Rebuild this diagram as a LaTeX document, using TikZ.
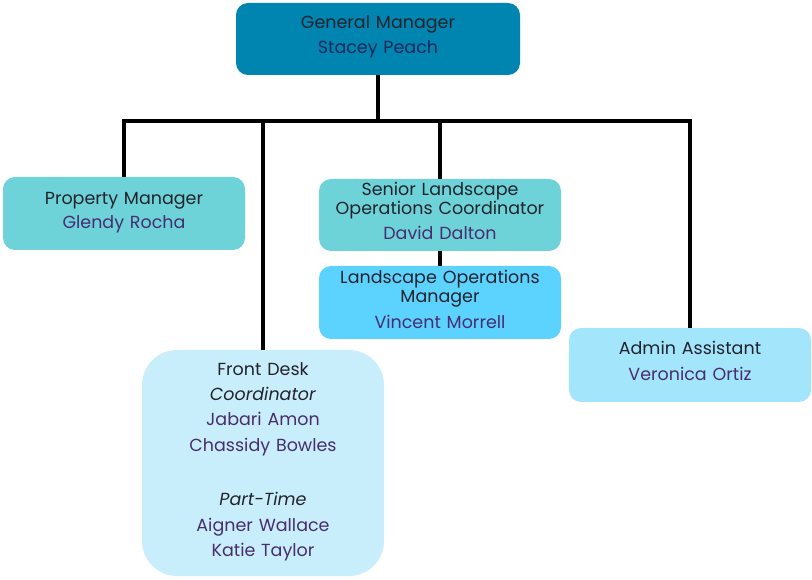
\documentclass[tikz,border=0pt]{standalone}
\usepackage{fontspec}
\setmainfont{Poppins}
\usepackage{tikz}
\definecolor{gmblue}{RGB}{0,132,176}
\definecolor{teal}{RGB}{109,211,216}
\definecolor{skyblue}{RGB}{92,210,255}
\definecolor{paleblue}{RGB}{201,238,251}
\definecolor{lightblue}{RGB}{163,229,251}
\definecolor{titletext}{RGB}{35,35,45}
\definecolor{nametext}{RGB}{72,45,112}
\definecolor{gmname}{RGB}{20,40,90}
\newcommand{\who}[1]{{\color{nametext}#1}}

\begin{document}
\begin{tikzpicture}[x=1pt,y=1pt,line cap=butt,line join=miter]
    \tikzset{box/.style={rounded corners=12pt,inner sep=0pt,text width=242pt,align=center,minimum height=73pt,text=titletext,font=\fontsize{17.5}{19}\selectfont},
        lift/.style={execute at end node={\par\vspace*{#1}}},
        orgline/.style={line width=3.6pt,black}}
    \useasboundingbox (0,0) rectangle (812,579);
    \node[box,lift=4pt,fill=gmblue,text width=284pt,minimum height=72pt] (gm) at (378,540) {General Manager\\[6pt]{\color{gmname}Stacey Peach}};
    \node[box,lift=2pt,fill=teal] (pm) at (124,365.5) {Property Manager\\[5pt]\who{Glendy Rocha}};
    \node[box,lift=8pt,fill=teal,minimum height=72pt] (slc) at (440,364) {Senior Landscape\\Operations Coordinator\\[6pt]\who{David Dalton}};
    \node[box,lift=6pt,fill=skyblue] (lom) at (440,276.5) {Landscape Operations\\Manager\\[7pt]\who{Vincent Morrell}};
    \node[box,lift=2pt,fill=paleblue,rounded corners=35pt,minimum height=226pt] (fd) at (263,116) {Front Desk\\[6pt]\textit{Coordinator}\\[6pt]\who{Jabari Amon}\\[7pt]\who{Chassidy Bowles}\\[35pt]\textit{Part-Time}\\[7pt]\who{Aigner Wallace}\\[6pt]\who{Katie Taylor}};
    \node[box,lift=8pt,fill=lightblue,minimum height=74pt] (adm) at (690,214) {Admin Assistant\\[7pt]\who{Veronica Ortiz}};
    \coordinate (bus) at (378,458);
    \draw[orgline] (gm.south) -- (bus);
    \draw[orgline] (pm.north) |- (bus) -| (adm.north);
    \draw[orgline] (fd.north) -- (fd.north |- bus);
    \draw[orgline] (slc.north) -- (slc.north |- bus);
    \draw[orgline] (slc.south) -- (lom.north);
\end{tikzpicture}
\end{document}
